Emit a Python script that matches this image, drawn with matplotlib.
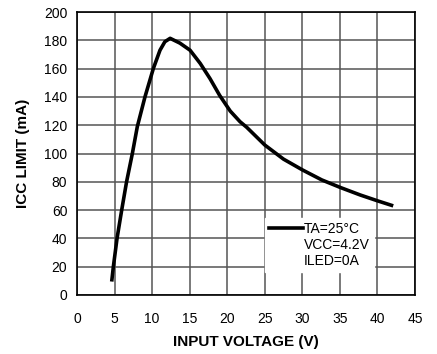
import matplotlib
matplotlib.use("Agg")
import matplotlib.pyplot as plt
from matplotlib.lines import Line2D

plt.rcParams['font.family'] = ['Liberation Sans', 'DejaVu Sans']

# Data
vin = [4.62, 4.84, 5.33, 5.95, 6.6, 7.37, 8.03, 9.05, 10.16, 11.05, 11.7, 12.4,
       13.7, 15.05, 16.4, 17.7, 19.0, 20.4, 21.7, 22.6, 25.0, 27.5, 30.05,
       32.6, 35.15, 37.7, 40.1, 42.1]
icc = [9.5, 20, 40, 60, 80, 100, 119, 140, 160, 173, 179, 181.4,
       178, 173, 163.7, 153, 141, 130, 122.5, 118.5, 106, 96, 88.3,
       81.3, 75.8, 70.7, 66.4, 63]
xticks = [0, 5, 10, 15, 20, 25, 30, 35, 40, 45]
yticks = [0, 20, 40, 60, 80, 100, 120, 140, 160, 180, 200]
legend_lines = ["TA=25°C", "VCC=4.2V", "ILED=0A"]

fig = plt.figure(figsize=(4.37, 3.54), dpi=100)
ax = fig.add_axes([77/437, 1 - 295/354, (415-77)/437, (295-12)/354])

ax.plot(vin, icc, color='black', lw=2.6, solid_capstyle='butt',
        solid_joinstyle='round', zorder=3)

ax.set_xlim(0, 45)
ax.set_ylim(0, 200)
ax.set_xticks(xticks)
ax.set_yticks(yticks)
ax.tick_params(length=0, labelsize=10, pad=7)
ax.tick_params(axis='x', pad=12)
ax.grid(True, color='#555555', lw=1.1)
ax.set_axisbelow(True)
for s in ax.spines.values():
    s.set_color('black')
    s.set_linewidth(1.2)

ax.set_xlabel("INPUT VOLTAGE (V)", fontsize=11, fontweight='bold', labelpad=7)
ax.set_ylabel("ICC LIMIT (mA)", fontsize=11, fontweight='bold', labelpad=10)

handles = [Line2D([], [], color='black', lw=2.6),
           Line2D([], [], color='none'),
           Line2D([], [], color='none')]
leg = ax.legend(handles, legend_lines, loc='lower left',
                bbox_to_anchor=((265-77)/338, (295-272)/283, (378-265)/338, (272-218)/283),
                frameon=True, fancybox=False, framealpha=1,
                edgecolor='white', facecolor='white', fontsize=10,
                handlelength=2.4, handletextpad=0.1, labelspacing=0.15,
                borderpad=0.3, borderaxespad=0)
leg.set_zorder(4)

fig.savefig("out.png", dpi=100)
